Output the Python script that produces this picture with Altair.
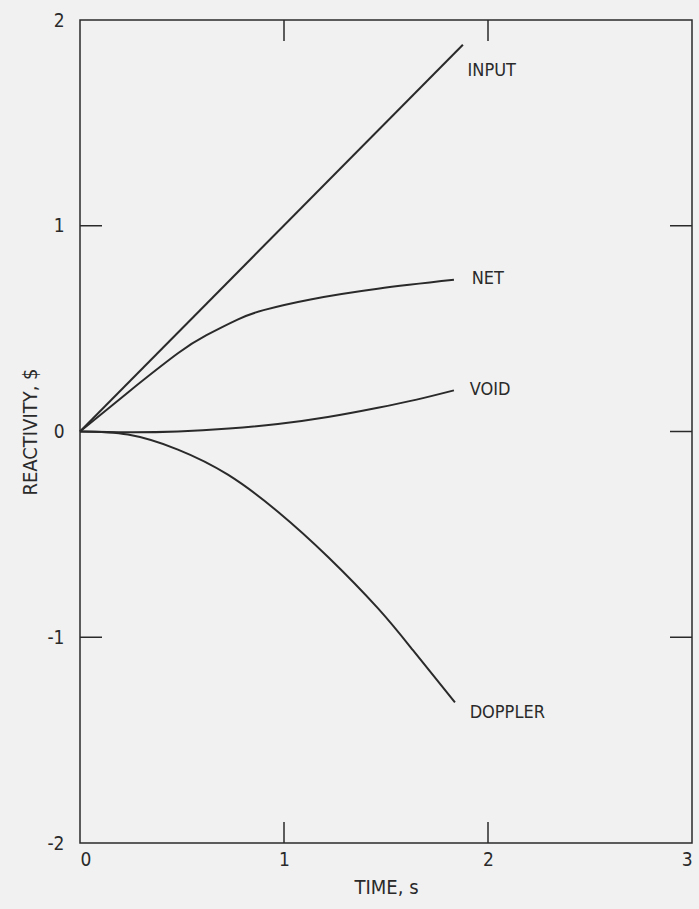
import altair as alt
import pandas as pd

# ---- data ----
t_input = [0.0, 1.877]
r_input = [0.0, 1.88]

t_net = [0.0, 0.235, 0.48, 0.62, 0.775, 0.9, 1.13, 1.46, 1.833]
r_net = [0.0, 0.19, 0.38, 0.468, 0.545, 0.59, 0.642, 0.694, 0.737]

t_void = [0.0, 0.235, 0.48, 0.73, 0.97, 1.215, 1.46, 1.65, 1.833]
r_void = [0.0, -0.004, 0.0, 0.014, 0.036, 0.07, 0.115, 0.155, 0.20]

t_doppler = [0.0, 0.235, 0.48, 0.725, 0.97, 1.216, 1.461, 1.632, 1.838]
r_doppler = [0.0, -0.015, -0.088, -0.21, -0.39, -0.61, -0.86, -1.063, -1.317]

label_names = ["INPUT", "NET", "VOID", "DOPPLER"]
label_t = [1.90, 1.92, 1.91, 1.91]
label_r = [1.75, 0.74, 0.20, -1.37]

x_ticks = [0, 1, 2, 3]
y_ticks = [2, 1, 0, -1, -2]
x_inner_ticks = [1, 2]
y_left_inner = [1, -1]
y_right_inner = [1, 0, -1]

rows = []
for name, ts, rs in [("INPUT", t_input, r_input), ("NET", t_net, r_net),
                     ("VOID", t_void, r_void), ("DOPPLER", t_doppler, r_doppler)]:
    for t, r in zip(ts, rs):
        rows.append({"series": name, "t": t, "r": r})
df = pd.DataFrame(rows)
labels = pd.DataFrame({"text": label_names, "t": label_t, "r": label_r})
xt = pd.DataFrame({"t": x_inner_ticks})
ytl = pd.DataFrame({"r": y_left_inner})
ytr = pd.DataFrame({"r": y_right_inner})

W, H = 612, 823
FONT = "DejaVu Sans Condensed, Liberation Sans Narrow, sans-serif"
INK = "#2a2a2a"

xs = alt.Scale(domain=[0, 3], nice=False, zero=False)
ys = alt.Scale(domain=[-2, 2], nice=False, zero=False)

neg = "datum.value < 0 ? '-' + abs(datum.value) : '' + datum.value"

lines = alt.Chart(df).mark_line(color=INK, strokeWidth=2, interpolate="natural").encode(
    x=alt.X("t:Q", scale=xs,
            axis=alt.Axis(title="TIME, s", values=x_ticks, labelPadding=7,
                          titleX=W / 2, titleY=44, titleBaseline="middle", labelExpr=neg)),
    y=alt.Y("r:Q", scale=ys,
            axis=alt.Axis(title="REACTIVITY, $", values=y_ticks, labelPadding=16,
                          titleX=-50, titleY=H / 2, titleAlign="center",
                          titleBaseline="middle", labelExpr=neg)),
    detail="series:N",
)

text = alt.Chart(labels).mark_text(align="left", baseline="middle", font=FONT,
                                   fontSize=18, color=INK).encode(
    x=alt.X("t:Q", scale=xs), y=alt.Y("r:Q", scale=ys), text="text:N")

bottom_ticks = alt.Chart(xt).mark_rule(color=INK, strokeWidth=1.5).encode(
    x=alt.X("t:Q", scale=xs), y=alt.value(H), y2=alt.value(H - 21))
top_ticks = alt.Chart(xt).mark_rule(color=INK, strokeWidth=1.5).encode(
    x=alt.X("t:Q", scale=xs), y=alt.value(0), y2=alt.value(21))
left_ticks = alt.Chart(ytl).mark_rule(color=INK, strokeWidth=1.5).encode(
    y=alt.Y("r:Q", scale=ys), x=alt.value(0), x2=alt.value(22))
right_ticks = alt.Chart(ytr).mark_rule(color=INK, strokeWidth=1.5).encode(
    y=alt.Y("r:Q", scale=ys), x=alt.value(W), x2=alt.value(W - 22))

chart = alt.layer(lines, text, bottom_ticks, top_ticks, left_ticks, right_ticks).properties(
    width=W, height=H,
    background="#f1f1f1",
    autosize=alt.AutoSizeParams(type="none"),
    padding={"left": 80, "top": 20, "right": 7, "bottom": 66},
).configure_view(
    stroke=INK, strokeWidth=1.5,
).configure_axis(
    domain=False, ticks=False, grid=False,
    labelFont=FONT, labelFontSize=19, labelColor=INK,
    titleFont=FONT, titleFontSize=20, titleFontWeight="normal", titleColor=INK,
)

chart.save("out.html", embed_options={"renderer": "svg", "actions": False})
